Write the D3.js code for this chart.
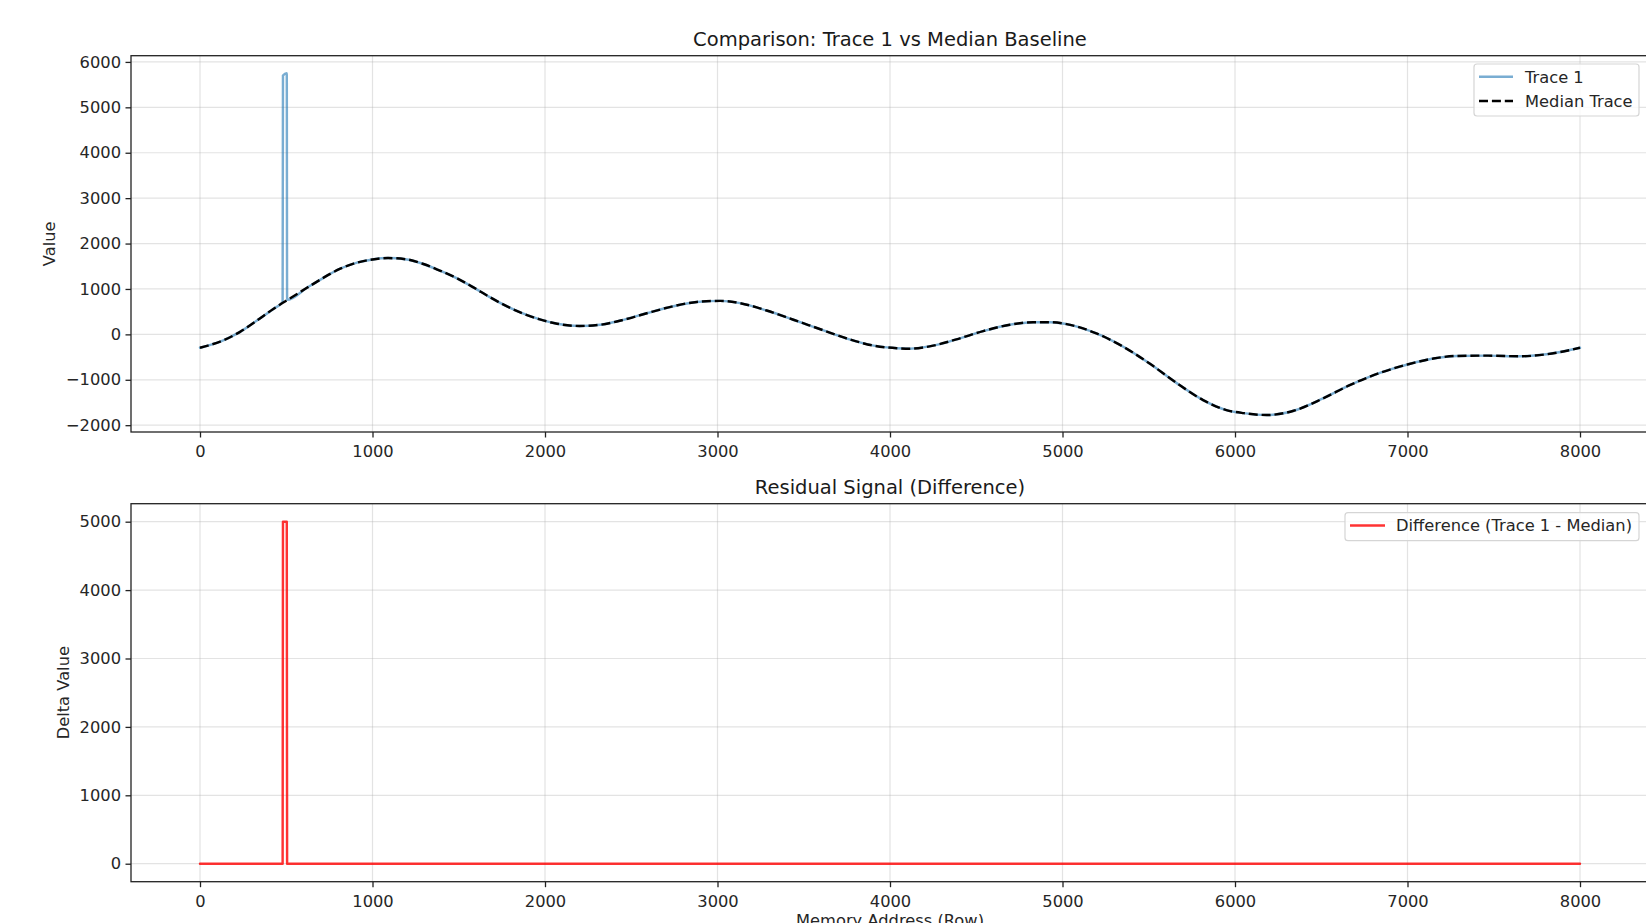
<!DOCTYPE html>
<html>
<head>
<meta charset="utf-8">
<script src="https://cdn.jsdelivr.net/npm/d3@7"></script>
<style>
  html, body { margin: 0; padding: 0; background: #fff; overflow: hidden; }
  svg { display: block; font-family: "DejaVu Sans", sans-serif; }
</style>
</head>
<body>
<svg id="chart" width="1646" height="923"></svg>
<script>
// ─── Data ───────────────────────────────────────────────────────────
const medianX = [0, 135, 230, 330, 425, 495, 620, 715, 810, 910, 1000, 1090, 1200, 1295, 1390, 1490,
  1585, 1680, 1780, 1875, 1970, 2070, 2200, 2320, 2455, 2590, 2745, 2880, 3015, 3130, 3285, 3440,
  3615, 3770, 3905, 4040, 4115, 4250, 4385, 4540, 4695, 4830, 4930, 5045, 5200, 5355, 5505, 5660,
  5815, 5950, 6050, 6185, 6340, 6510, 6665, 6840, 7005, 7150, 7285, 7460, 7650, 7805, 8000];
const medianY = [-295, -130, 50, 305, 560, 730, 1025, 1245, 1440, 1580, 1650, 1680, 1650, 1550, 1405, 1235,
  1035, 820, 615, 455, 330, 235, 185, 212, 320, 465, 620, 715, 738, 688, 525, 322,
  88, -115, -248, -305, -315, -248, -110, 72, 212, 268, 268, 210, 15, -278, -643, -1068,
  -1447, -1667, -1735, -1776, -1682, -1411, -1118, -848, -658, -533, -475, -468, -482, -439, -295];

// Trace 1 follows the median except for the injected spike
const spikeX = [479, 481, 503, 505];
const spikeY = [715, 5700, 5750, 760];

const diffX = [0, 479, 481, 503, 505, 8000];
const diffY = [0, 0, 5000, 5000, 0, 0];

const xTicks = [0, 1000, 2000, 3000, 4000, 5000, 6000, 7000, 8000];
const topYTicks = [-2000, -1000, 0, 1000, 2000, 3000, 4000, 5000, 6000];
const bottomYTicks = [0, 1000, 2000, 3000, 4000, 5000];

// ─── Setup ──────────────────────────────────────────────────────────
const svg = d3.select("#chart");
const FONT = 16.3;
const TITLE_FONT = 19.5;
const TICK_COLOR = "#262626";
const LW = 2.45;
const DASH = "9 3.9";
const fmt = d3.format("d");

const medianData = medianX.map((x, i) => ({ x, y: medianY[i] }));
const trace1Data = medianData
  .filter((d) => d.x < spikeX[0] || d.x > spikeX[spikeX.length - 1])
  .concat(spikeX.map((x, i) => ({ x, y: spikeY[i] })))
  .sort((a, b) => a.x - b.x);
const diffData = diffX.map((x, i) => ({ x, y: diffY[i] }));

function makePanel(opts) {
  const { top, bottom, left, right, yDomain, yTicks, title, ylabel, ylabelX, id } = opts;
  const w = right - left;
  const h = bottom - top;

  const x = d3.scaleLinear().domain([-400, 8400]).range([0, w]);
  const y = d3.scaleLinear().domain(yDomain).range([h, 0]);

  const g = svg.append("g").attr("transform", `translate(${left},${top})`);

  svg.append("defs").append("clipPath").attr("id", id)
    .append("rect").attr("width", w).attr("height", h);

  // Grid
  const grid = g.append("g").attr("class", "grid");
  grid.selectAll(".gx").data(xTicks).join("line")
    .attr("x1", (d) => x(d)).attr("x2", (d) => x(d))
    .attr("y1", 0).attr("y2", h)
    .attr("stroke", "#b0b0b0").attr("stroke-opacity", 0.35).attr("stroke-width", 1.2);
  grid.selectAll(".gy").data(yTicks).join("line")
    .attr("x1", 0).attr("x2", w)
    .attr("y1", (d) => y(d)).attr("y2", (d) => y(d))
    .attr("stroke", "#b0b0b0").attr("stroke-opacity", 0.35).attr("stroke-width", 1.2);

  const plot = g.append("g").attr("clip-path", `url(#${id})`);

  // Axes
  const xAxis = g.append("g")
    .attr("transform", `translate(0,${h})`)
    .call(d3.axisBottom(x).tickValues(xTicks).tickFormat(fmt).tickSize(5.5).tickPadding(4.5));
  const yAxis = g.append("g")
    .call(d3.axisLeft(y).tickValues(yTicks).tickFormat(fmt).tickSize(5.5).tickPadding(4.5));

  [xAxis, yAxis].forEach((ax) => {
    ax.select(".domain").remove();
    ax.selectAll(".tick line").attr("stroke", "#222").attr("stroke-width", 1.3);
    ax.selectAll(".tick text")
      .attr("font-family", "DejaVu Sans")
      .attr("font-size", FONT)
      .attr("fill", TICK_COLOR);
  });
  xAxis.selectAll(".tick text").attr("dy", "0.92em");

  // Frame
  g.append("rect")
    .attr("width", w).attr("height", h)
    .attr("fill", "none").attr("stroke", "#222").attr("stroke-width", 1.3);

  // Title
  svg.append("text")
    .attr("x", left + w / 2).attr("y", top - 9.5)
    .attr("text-anchor", "middle")
    .attr("font-size", TITLE_FONT)
    .attr("fill", "#1a1a1a")
    .text(title);

  // Y label
  svg.append("text")
    .attr("transform", `translate(${ylabelX},${top + h / 2}) rotate(-90)`)
    .attr("text-anchor", "middle")
    .attr("font-size", FONT)
    .attr("fill", TICK_COLOR)
    .text(ylabel);

  return { g, plot, x, y, w, h };
}

// ─── Top panel: comparison ─────────────────────────────────────────
const topPanel = makePanel({
  id: "clip-top", top: 55.7, bottom: 432, left: 131, right: 1649,
  yDomain: [-2150, 6137], yTicks: topYTicks,
  title: "Comparison: Trace 1 vs Median Baseline", ylabel: "Value", ylabelX: 55
});

const lineTop = d3.line()
  .x((d) => topPanel.x(d.x))
  .y((d) => topPanel.y(d.y))
  .curve(d3.curveMonotoneX);

topPanel.plot.append("path")
  .datum(trace1Data)
  .attr("fill", "none")
  .attr("stroke", "#1f77b4")
  .attr("stroke-opacity", 0.6)
  .attr("stroke-width", LW)
  .attr("stroke-linejoin", "round")
  .attr("stroke-linecap", "round")
  .attr("d", lineTop);

topPanel.plot.append("path")
  .datum(medianData)
  .attr("fill", "none")
  .attr("stroke", "#000")
  .attr("stroke-width", LW)
  .attr("stroke-dasharray", DASH)
  .attr("d", lineTop);

// ─── Bottom panel: residual ─────────────────────────────────────────
const botPanel = makePanel({
  id: "clip-bot", top: 503.7, bottom: 881.7, left: 131, right: 1649,
  yDomain: [-263, 5263], yTicks: bottomYTicks,
  title: "Residual Signal (Difference)", ylabel: "Delta Value", ylabelX: 69
});

botPanel.plot.append("path")
  .datum(diffData)
  .attr("fill", "none")
  .attr("stroke", "#ff0000")
  .attr("stroke-opacity", 0.8)
  .attr("stroke-width", LW)
  .attr("stroke-linejoin", "round")
  .attr("stroke-linecap", "round")
  .attr("d", d3.line().x((d) => botPanel.x(d.x)).y((d) => botPanel.y(d.y)));

// X label: sits below the tick labels, at the bottom edge as in the reference
svg.append("text")
  .attr("x", 131 + (1649 - 131) / 2).attr("y", 926)
  .attr("text-anchor", "middle")
  .attr("font-size", FONT)
  .attr("fill", TICK_COLOR)
  .text("Memory Address (Row)");

// ─── Legends ───────────────────────────────────────────────────────
function legend(box, items) {
  const lg = svg.append("g");
  lg.append("rect")
    .attr("x", box.x).attr("y", box.y).attr("width", box.w).attr("height", box.h)
    .attr("rx", 3).attr("fill", "#fff").attr("fill-opacity", 0.8)
    .attr("stroke", "#d5d5d5").attr("stroke-width", 1.2);
  items.forEach((it) => {
    lg.append("line")
      .attr("x1", it.x1).attr("x2", it.x2).attr("y1", it.y).attr("y2", it.y)
      .attr("stroke", it.color).attr("stroke-opacity", it.opacity)
      .attr("stroke-width", LW).attr("stroke-dasharray", it.dash || null);
    lg.append("text")
      .attr("x", it.tx).attr("y", it.y).attr("dy", "0.36em")
      .attr("font-size", FONT).attr("fill", TICK_COLOR)
      .text(it.label);
  });
}

legend({ x: 1474, y: 64, w: 165, h: 52 }, [
  { label: "Trace 1", color: "#1f77b4", opacity: 0.6, x1: 1479, x2: 1513, tx: 1525, y: 76.7 },
  { label: "Median Trace", color: "#000", opacity: 1, dash: DASH, x1: 1479, x2: 1513, tx: 1525, y: 101 }
]);

legend({ x: 1345, y: 512.7, w: 294, h: 28 }, [
  { label: "Difference (Trace 1 - Median)", color: "#ff0000", opacity: 0.8, x1: 1350, x2: 1385, tx: 1396, y: 525.5 }
]);
</script>
</body>
</html>
